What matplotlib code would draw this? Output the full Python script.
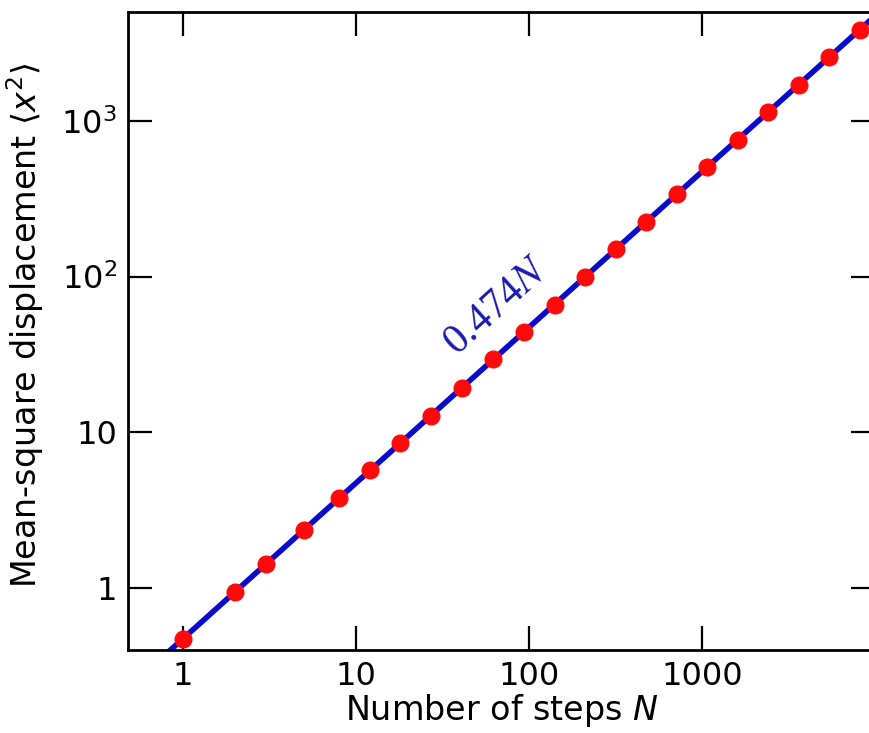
import matplotlib.pyplot as plt
import numpy as np
from matplotlib.ticker import FixedLocator, FixedFormatter, NullLocator

plt.rcParams['font.family'] = ['DejaVu Sans']
plt.rcParams['mathtext.fontset'] = 'dejavusans'

# simulated walks: number of steps and measured mean-square displacement
steps = [1, 2, 3, 5, 8, 12, 18, 27, 41, 62, 93, 140, 210, 316, 474, 711,
         1067, 1600, 2400, 3600, 5400, 8100]
msd = [0.47, 0.95, 1.42, 2.37, 3.8, 5.7, 8.5, 12.8, 19.4, 29.4, 44, 66,
       99, 150, 225, 337, 506, 759, 1138, 1707, 2560, 3840]

# fitted slope of the linear law
slope = 0.474

x_ticks = [1, 10, 100, 1000]
x_labels = ['1', '10', '100', '1000']
y_ticks = [1, 10, 100, 1000]
y_labels = ['1', '10', r'10$^2$', r'10$^3$']

fig = plt.figure(figsize=(8.69, 7.33), dpi=100)
ax = fig.add_axes([0.1473, 0.1132, 0.86, 0.8704])

nfit = np.array([0.3, 20000.0])
ax.plot(nfit, slope * nfit, color='#0a0acc', linewidth=4, zorder=2)
ax.plot(steps, msd, 'o', color='#ff0a0a', markersize=12, zorder=3)

ax.set_xscale('log')
ax.set_yscale('log')
ax.set_xlim(0.48, 10000)
ax.set_ylim(0.4, 5000)

ax.xaxis.set_major_locator(FixedLocator(x_ticks))
ax.xaxis.set_major_formatter(FixedFormatter(x_labels))
ax.yaxis.set_major_locator(FixedLocator(y_ticks))
ax.yaxis.set_major_formatter(FixedFormatter(y_labels))
ax.xaxis.set_minor_locator(NullLocator())
ax.yaxis.set_minor_locator(NullLocator())
ax.tick_params(which='major', direction='in', length=17, width=1.6,
               top=True, right=True, labelsize=23, pad=8)
for s in ax.spines.values():
    s.set_linewidth(2)

ax.set_xlabel(r'Number of steps $\mathit{N}$', fontsize=24, labelpad=0)
ax.set_ylabel(r'Mean-square displacement $\langle \mathit{x}^2 \rangle$',
              fontsize=24)
ax.yaxis.set_label_coords(-0.11, 0.51)

ax.text(41, 28, r'0.474$N$', color='#1a1ab0', fontsize=30,
        family='Liberation Serif', rotation=42,
        rotation_mode='anchor', ha='left', va='bottom',
        math_fontfamily='stix')

fig.savefig('out.png', dpi=100)
